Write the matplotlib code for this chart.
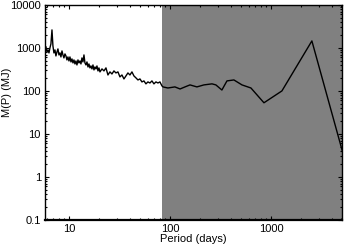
import matplotlib
matplotlib.use("Agg")
from matplotlib import pyplot as plt
from matplotlib.ticker import FixedLocator, FixedFormatter

matplotlib.rc('font', family=['Liberation Sans', 'DejaVu Sans'], size=8)

# densely sampled short-period part
period = [5.92, 6.06, 6.20, 6.34, 6.48, 6.63, 6.79, 6.94, 7.10, 7.27,
          7.43, 7.61, 7.78, 7.96, 8.15, 8.33, 8.53, 8.72, 8.92, 9.13,
          9.34, 9.55, 9.77, 10.0, 10.23, 10.47, 10.71, 10.96, 11.21, 11.47,
          11.73, 12.00, 12.28, 12.56, 12.85, 13.15, 13.45, 13.76, 14.08, 14.40,
          14.74, 15.08, 15.43, 15.78, 16.14, 16.52, 16.90, 17.29, 17.69, 18.10,
          18.51, 18.94, 19.38, 19.82, 20.28, 21.23, 22.22, 23.25, 24.33, 25.46,
          26.65, 27.89, 29.19, 30.55, 31.99, 33.48, 35.04, 36.67, 38.37, 40.18,
          42.05, 44.01, 46.07, 48.21, 50.47, 52.81, 55.27, 57.85, 60.55, 63.39,
          66.34, 69.44, 72.67, 76.06, 79.62, 83.32]
mass = [1055, 807, 898, 765, 1000, 1239, 2624, 1114, 765, 898,
        651, 807, 948, 687, 765, 617, 851, 687, 585, 725,
        651, 526, 617, 498, 617, 472, 555, 448, 526, 424,
        498, 402, 526, 448, 498, 424, 585, 472, 687, 448,
        402, 472, 361, 424, 343, 381, 325, 402, 308, 361,
        325, 381, 292, 343, 277, 325, 292, 343, 235, 277,
        248, 292, 262, 277, 212, 235, 190, 223, 262, 235,
        277, 223, 201, 180, 190, 162, 171, 146, 162, 153,
        171, 146, 162, 153, 162, 131]

# sparse long-period part
period_long = [85.3, 95.5, 112, 126, 141, 158, 185, 217, 261, 285,
               327, 367, 430, 517, 634, 853, 1285, 2545, 5160]
mass_long = [124, 117, 124, 111, 124, 138, 124, 138, 146, 138,
             105, 171, 180, 138, 117, 53, 100, 1455, 3.6]

x_range = (5.8, 5050)
y_range = (0.1, 10000)
shade_start = 83

fig = plt.figure(figsize=(3.44, 2.46), dpi=100)
ax = fig.add_axes([0.131, 0.106, 0.863, 0.874])

ax.axvspan(shade_start, x_range[1], color='#808080', lw=0, zorder=0)
ax.plot(period + period_long, mass + mass_long, color='black', lw=1.0)

ax.set_xscale('log')
ax.set_yscale('log')
ax.set_xlim(*x_range)
ax.set_ylim(*y_range)

ax.yaxis.set_major_locator(FixedLocator([0.1, 1, 10, 100, 1000, 10000]))
ax.yaxis.set_major_formatter(FixedFormatter(['0.1', '1', '10', '100', '1000', '10000']))
ax.xaxis.set_major_locator(FixedLocator([10, 100, 1000]))
ax.xaxis.set_major_formatter(FixedFormatter(['10', '100', '1000']))

ax.tick_params(which='both', direction='in', top=True, right=True, width=0.8)
ax.tick_params(which='major', length=3, pad=3)
ax.tick_params(which='minor', length=1.5)
for s in ax.spines.values():
    s.set_linewidth(1.0)
ax.spines['bottom'].set_linewidth(1.6)

ax.set_xlabel('Period (days)', labelpad=0)
ax.set_ylabel('M(P) (MJ)')
ax.yaxis.set_label_coords(-0.112, 0.595)

plt.savefig('out.png', dpi=100)
